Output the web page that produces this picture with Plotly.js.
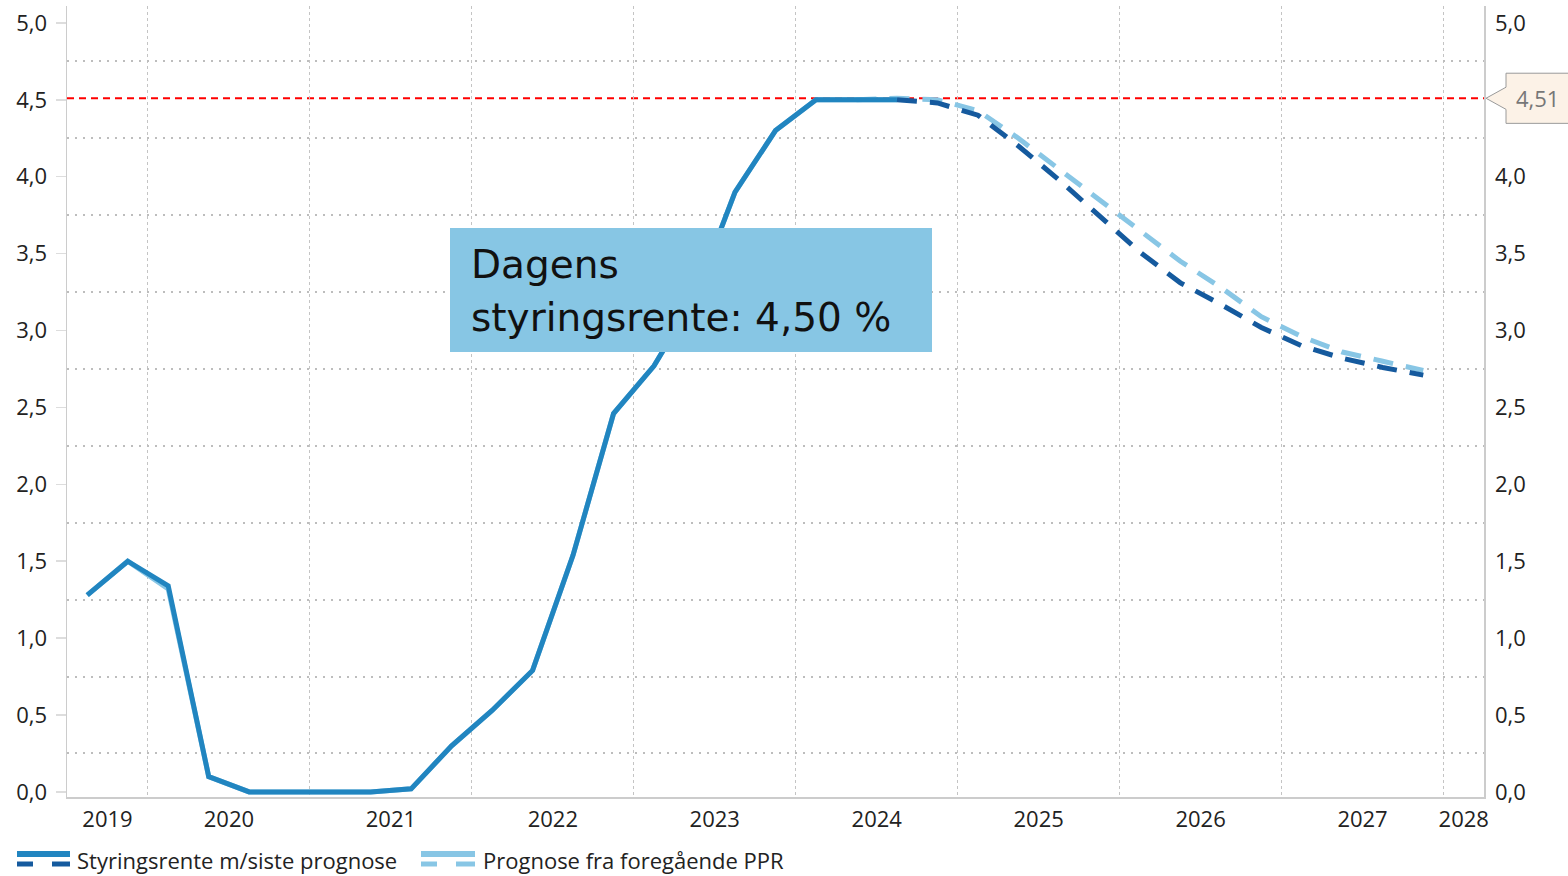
<!DOCTYPE html>
<html>
<head>
<meta charset="utf-8">
<script src="https://cdn.plot.ly/plotly-3.0.1.min.js"></script>
<style>
  html, body { margin: 0; padding: 0; background: #ffffff; }
  #chart { width: 1568px; height: 876px; }
</style>
</head>
<body>
<div id="chart"></div>
<script>
// ---- Data (quarterly averages, per cent) ----
const histQuarters = ["2019Q3","2019Q4","2020Q1","2020Q2","2020Q3","2020Q4","2021Q1","2021Q2","2021Q3","2021Q4",
                      "2022Q1","2022Q2","2022Q3","2022Q4","2023Q1","2023Q2","2023Q3","2023Q4","2024Q1","2024Q2","2024Q3"];
const histRate     = [1.28, 1.50, 1.34, 0.10, 0.00, 0.00, 0.00, 0.00, 0.02, 0.30,
                      0.53, 0.79, 1.54, 2.46, 2.77, 3.21, 3.90, 4.30, 4.50, 4.50, 4.50];
const prevHistRate = [1.28, 1.50, 1.32, 0.10, 0.00, 0.00, 0.00, 0.00, 0.02, 0.30,
                      0.53, 0.79, 1.54, 2.46, 2.77, 3.21, 3.90, 4.30, 4.50, 4.50, 4.50];

const fcQuarters   = ["2024Q3","2024Q4","2025Q1","2025Q2","2025Q3","2025Q4","2026Q1","2026Q2","2026Q3","2026Q4",
                      "2027Q1","2027Q2","2027Q3","2027Q4"];
const fcRate       = [4.50, 4.48, 4.40, 4.20, 3.98, 3.74, 3.51, 3.31, 3.17, 3.02, 2.90, 2.82, 2.76, 2.71];

const prevQuarters = ["2024Q2","2024Q3","2024Q4","2025Q1","2025Q2","2025Q3","2025Q4","2026Q1","2026Q2","2026Q3","2026Q4",
                      "2027Q1","2027Q2","2027Q3","2027Q4"];
const prevRate     = [4.50, 4.51, 4.50, 4.43, 4.25, 4.05, 3.84, 3.64, 3.45, 3.28, 3.09, 2.96, 2.86, 2.80, 2.74];

const yearLabels   = ["2019","2020","2021","2022","2023","2024","2025","2026","2027","2028"];
const yTicks       = [0, 0.5, 1, 1.5, 2, 2.5, 3, 3.5, 4, 4.5, 5];
const marketRate   = 4.51;
const seriesNames  = ["Styringsrente m/siste prognose", "Prognose fra foregående PPR"];
const boxLines     = ["Dagens", "styringsrente: 4,50 %"];

// ---- Helpers ----
function qToX(q) { const y = +q.slice(0,4), n = +q.slice(5); return y + (n - 0.5) / 4; }
const xMin = 2019.5, xMax = 2028.25;
// label sits in the middle of the visible part of each year
const yearTickVals = yearLabels.map(s => { const y = +s; return (Math.max(y, xMin) + Math.min(y + 1, xMax)) / 2; });
// right axis: the value flag hides the tick closest to it
const rightTicks = yTicks.filter(v => Math.abs(v - marketRate) > 0.2);

const cMain = "#2185c0", cDark = "#155a9e", cLight = "#88c6e5";
const fontTick = "Open Sans, Lato, sans-serif";
const dashPat = "20px,13px";

const traces = [
  { x: histQuarters.map(qToX), y: prevHistRate, type: "scatter", mode: "lines", name: seriesNames[1],
    line: { color: cLight, width: 5 }, hoverinfo: "skip" },
  { x: prevQuarters.map(qToX), y: prevRate, type: "scatter", mode: "lines", name: seriesNames[1],
    line: { color: cLight, width: 5, dash: dashPat }, hoverinfo: "skip" },
  { x: histQuarters.map(qToX), y: histRate, type: "scatter", mode: "lines", name: seriesNames[0],
    line: { color: cMain, width: 5 }, hoverinfo: "skip" },
  { x: fcQuarters.map(qToX), y: fcRate, type: "scatter", mode: "lines", name: seriesNames[0],
    line: { color: cDark, width: 5, dash: dashPat }, hoverinfo: "skip" },
  // invisible trace to activate right-hand axis
  { x: [xMin], y: [0], yaxis: "y2", type: "scatter", mode: "markers", marker: { opacity: 0 }, hoverinfo: "skip", showlegend: false }
];

// pixel -> paper helpers for decorations (plot area 67..1484 x, 6..797 y)
const PL = 67, PR = 1484, PT = 6, PB = 797;
const px = v => (v - PL) / (PR - PL);
const py = v => (PB - v) / (PB - PT);

const yRange = [-0.033, 5.11];
const fmt = v => v.toFixed(2).replace(".", ",");

const shapes = [
  // market rate line
  { type: "line", xref: "paper", yref: "y", x0: 0, x1: 1, y0: marketRate, y1: marketRate,
    line: { color: "#ff0000", width: 2, dash: "7px,5px" }, layer: "below" },
  // callout box with pointer
  { type: "path", xref: "paper", yref: "y",
    path: `M ${px(1486)},${marketRate} L ${px(1506)},${marketRate + 0.072} L ${px(1506)},${marketRate + 0.163} ` +
          `L ${px(1600)},${marketRate + 0.163} L ${px(1600)},${marketRate - 0.163} L ${px(1506)},${marketRate - 0.163} ` +
          `L ${px(1506)},${marketRate - 0.072} Z`,
    fillcolor: "#fcf2e7", line: { color: "#9a9a9a", width: 1 }, layer: "above" },
  // info box
  { type: "rect", xref: "paper", yref: "paper", x0: px(450), x1: px(932), y0: py(352), y1: py(228),
    fillcolor: "#87c6e4", line: { width: 0 }, layer: "above" },
  // legend symbols
  { type: "line", xref: "paper", yref: "paper", x0: px(17), x1: px(70), y0: py(854), y1: py(854), line: { color: cMain, width: 6 } },
  { type: "line", xref: "paper", yref: "paper", x0: px(17), x1: px(33), y0: py(864), y1: py(864), line: { color: cDark, width: 5 } },
  { type: "line", xref: "paper", yref: "paper", x0: px(52), x1: px(70), y0: py(864), y1: py(864), line: { color: cDark, width: 5 } },
  { type: "line", xref: "paper", yref: "paper", x0: px(421), x1: px(475), y0: py(854), y1: py(854), line: { color: cLight, width: 6 } },
  { type: "line", xref: "paper", yref: "paper", x0: px(421), x1: px(437), y0: py(864), y1: py(864), line: { color: cLight, width: 5 } },
  { type: "line", xref: "paper", yref: "paper", x0: px(456), x1: px(475), y0: py(864), y1: py(864), line: { color: cLight, width: 5 } }
];

const boxFont = { family: "DejaVu Sans, Open Sans, sans-serif", size: 39, color: "#111111" };

const annotations = [
  { xref: "paper", yref: "y", x: px(1537), y: marketRate, text: fmt(marketRate), showarrow: false,
    xanchor: "center", yanchor: "middle", font: { family: fontTick, size: 22, color: "#777777" } },
  { xref: "paper", yref: "paper", x: px(469), y: py(264), xanchor: "left", yanchor: "middle",
    text: boxLines[0], showarrow: false, align: "left", font: boxFont },
  { xref: "paper", yref: "paper", x: px(469), y: py(317), xanchor: "left", yanchor: "middle",
    text: boxLines[1], showarrow: false, align: "left", font: boxFont },
  { xref: "paper", yref: "paper", x: px(75), y: py(860), xanchor: "left", yanchor: "middle",
    text: seriesNames[0], showarrow: false, font: { family: fontTick, size: 22, color: "#222222" } },
  { xref: "paper", yref: "paper", x: px(481), y: py(860), xanchor: "left", yanchor: "middle",
    text: seriesNames[1], showarrow: false, font: { family: fontTick, size: 22, color: "#222222" } }
];

const yTickBase = {
  range: yRange, tickformat: ".1f",
  zeroline: false, showline: true, linecolor: "#cccccc", linewidth: 1.5,
  tickfont: { family: fontTick, size: 22, color: "#222222" }
};

const layout = {
  width: 1568, height: 876,
  margin: { l: PL, r: 1568 - PR, t: PT, b: 876 - PB, pad: 0 },
  paper_bgcolor: "#ffffff", plot_bgcolor: "#ffffff",
  separators: ", ",
  showlegend: false,
  xaxis: {
    range: [xMin, xMax], tickmode: "array", tickvals: yearTickVals, ticktext: yearLabels,
    showgrid: false, zeroline: false, ticks: "", showline: true, linecolor: "#cccccc", linewidth: 1.5,
    ticklabelstandoff: 2,
    tickfont: { family: fontTick, size: 22, color: "#222222" },
    minor: { tickmode: "linear", tick0: 2020, dtick: 1, showgrid: true, gridcolor: "#c4c4c4", gridwidth: 1, griddash: "3px,3px", ticks: "" }
  },
  yaxis: Object.assign({}, yTickBase, {
    side: "left", tickmode: "array", tickvals: yTicks, showgrid: false,
    ticks: "outside", ticklen: 10, tickcolor: "#dddddd", tickwidth: 1.5, ticklabelstandoff: 4,
    minor: { tickmode: "linear", tick0: 0.25, dtick: 0.5, showgrid: true, gridcolor: "#bdbdbd", gridwidth: 2, griddash: "2px,6px", ticks: "" }
  }),
  yaxis2: Object.assign({}, yTickBase, {
    overlaying: "y", side: "right", tickmode: "array", tickvals: rightTicks, showgrid: false, ticks: "",
    ticklabelstandoff: 5, matches: "y"
  }),
  shapes: shapes,
  annotations: annotations
};

Plotly.newPlot("chart", traces, layout, { displayModeBar: false, staticPlot: true });
</script>
</body>
</html>
